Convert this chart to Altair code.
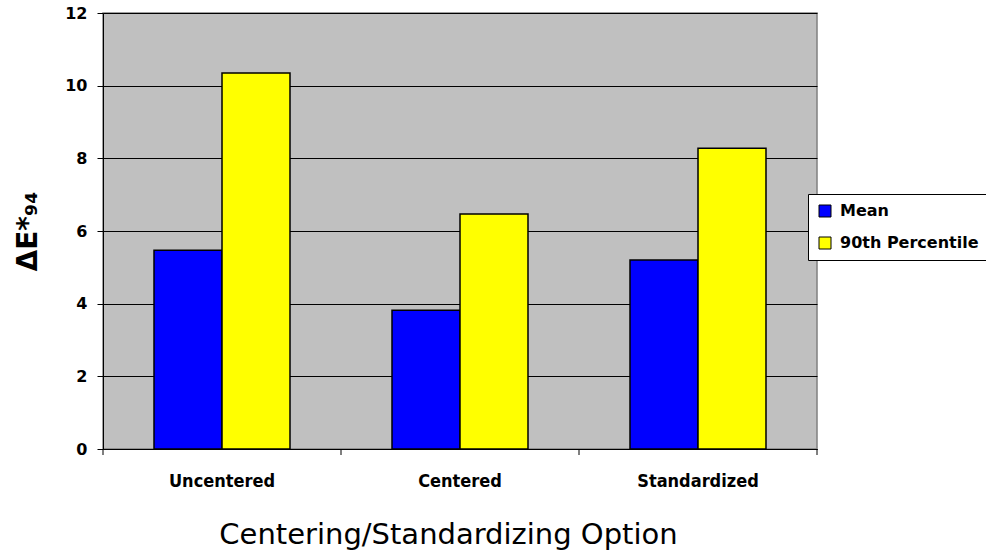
import altair as alt
import pandas as pd

# Error summary per centering/standardizing option
options = ["Uncentered", "Centered", "Standardized"]
series = ["Mean", "90th Percentile"]
mean_vals = [5.47, 3.82, 5.20]
p90_vals = [10.35, 6.47, 8.28]
series_colors = ["#0000FF", "#FFFF00"]
y_ticks = [0, 2, 4, 6, 8, 10, 12]

rows = []
for opt, m, p in zip(options, mean_vals, p90_vals):
    rows.append({"option": opt, "series": "Mean", "value": m})
    rows.append({"option": opt, "series": "90th Percentile", "value": p})
df = pd.DataFrame(rows)

W, H = 714, 436
label_font = "DejaVu Sans"
cond_font = "DejaVu Sans Condensed"

bars = alt.Chart(df).mark_bar(stroke="black", strokeWidth=1.5).encode(
    x=alt.X(
        "option:N",
        sort=options,
        scale=alt.Scale(paddingInner=0.4286, paddingOuter=0.2143),
        axis=alt.Axis(
            title="Centering/Standardizing Option",
            labelAngle=0,
            labelFont=cond_font,
            labelFontSize=18,
            labelFontWeight="bold",
            labelColor="black",
            labelPadding=23,
            ticks=False,
            domainColor="black",
            titleFont=label_font,
            titleFontSize=29,
            titleFontWeight="normal",
            titleColor="black",
            titlePadding=30,
            titleX=W / 2 - 12,
        ),
    ),
    xOffset=alt.XOffset("series:N", sort=series),
    y=alt.Y(
        "value:Q",
        scale=alt.Scale(domain=[0, 12], nice=False),
        axis=alt.Axis(
            title="ΔE*₉₄",
            values=y_ticks,
            labelFont=label_font,
            labelFontSize=16,
            labelFontWeight="bold",
            labelColor="black",
            labelPadding=10,
            tickSize=6,
            tickColor="black",
            domainColor="black",
            grid=True,
            gridColor="black",
            gridWidth=1,
            titleFont=label_font,
            titleFontSize=28,
            titleFontWeight="bold",
            titleColor="black",
            titlePadding=22,
        ),
    ),
    color=alt.Color(
        "series:N",
        sort=series,
        scale=alt.Scale(domain=series, range=series_colors),
        legend=alt.Legend(
            title=None,
            orient="none",
            legendX=705,
            legendY=181,
            fillColor="white",
            strokeColor="black",
            padding=9,
            symbolType="square",
            symbolSize=144,
            symbolStrokeColor="black",
            symbolStrokeWidth=1,
            symbolOpacity=1,
            labelFont=label_font,
            labelFontSize=16,
            labelFontWeight="bold",
            labelColor="black",
            labelOffset=7,
            rowPadding=16,
        ),
    ),
)

# Category-boundary tick marks below the x axis
boundaries = pd.DataFrame({"b": [0, 1, 2, 3]})
ticks = alt.Chart(boundaries).mark_rule(color="black", strokeWidth=1).encode(
    x=alt.X("b:Q", scale=alt.Scale(domain=[0, 3], nice=False), axis=None),
    y=alt.value(H),
    y2=alt.value(H + 6),
)

chart = alt.layer(bars, ticks).resolve_scale(x="independent").properties(
    width=W,
    height=H,
    background="white",
    autosize=alt.AutoSizeParams(type="none"),
    padding={"left": 103, "top": 13, "right": 169, "bottom": 105},
).configure_view(
    fill="#C0C0C0",
    stroke="#808080",
    strokeWidth=1.5,
)

chart.save("out.html", embed_options={"renderer": "svg", "actions": False})
